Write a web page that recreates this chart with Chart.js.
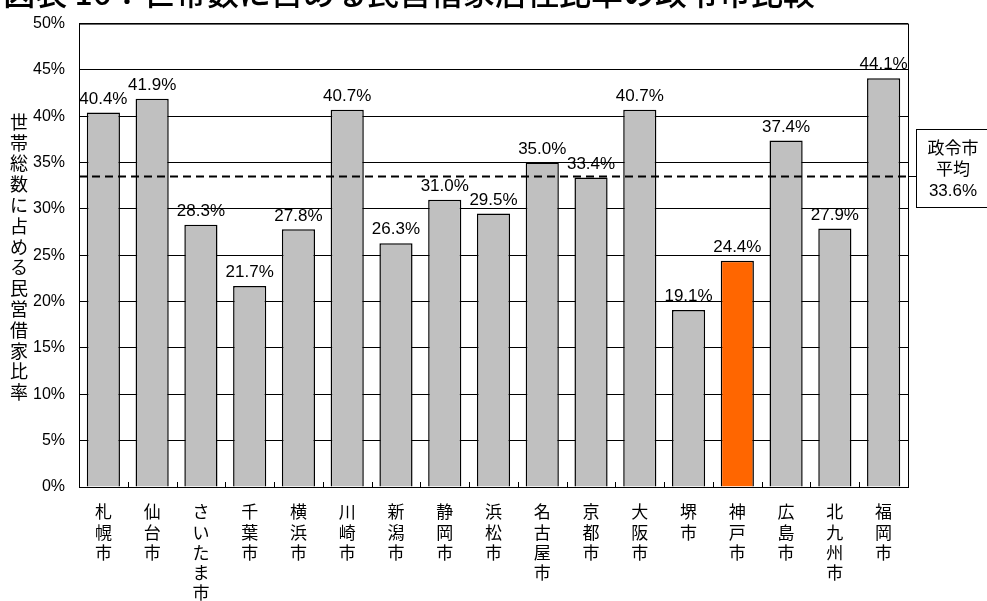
<!DOCTYPE html>
<html lang="ja">
<head>
    <meta charset="UTF-8">
    <title>世帯数に占める民営借家居住比率の政令市比較</title>
    <script src="https://cdn.jsdelivr.net/npm/chart.js"></script>
    <style>
        html, body { margin: 0; padding: 0; background: #fff; }
        #wrap { width: 987px; height: 601px; position: relative; overflow: hidden; }
    </style>
</head>
<body>
    <div id="wrap"><canvas id="chart" width="987" height="601"></canvas></div>

    <script>
        // 政令市ごとの民営借家比率（%）
        const cities = ['札幌市', '仙台市', 'さいたま市', '千葉市', '横浜市', '川崎市', '新潟市', '静岡市', '浜松市',
                        '名古屋市', '京都市', '大阪市', '堺市', '神戸市', '広島市', '北九州市', '福岡市'];
        const rates = [40.4, 41.9, 28.3, 21.7, 27.8, 40.7, 26.3, 31.0, 29.5, 35.0, 33.4, 40.7, 19.1, 24.4, 37.4, 27.9, 44.1];
        const average = 33.6;       // 政令市平均
        const highlight = '神戸市';

        const titleText = '図表 16：世帯数に占める民営借家居住比率の政令市比較';
        const yTitle = '世帯総数に占める民営借家比率';
        const avgLines = ['政令市', '平均', average.toFixed(1) + '%'];

        const jp = '"Noto Sans CJK JP", "Noto Sans", sans-serif';
        const latin = '"Liberation Sans", Arial, sans-serif';

        // タイトル・縦書き軸名・平均線・数値ラベルなどを描く
        const extras = {
            id: 'extras',
            afterDatasetsDraw(chart) {
                const { ctx, chartArea: a, scales: { x, y } } = chart;
                ctx.save();

                // 枠の上辺・右辺
                ctx.strokeStyle = '#000';
                ctx.lineWidth = 1;
                ctx.strokeRect(a.left + 0.5, a.top + 0.5, a.right - a.left, a.bottom - a.top);

                // カテゴリ境界の目盛り（内向き）
                const step = (a.right - a.left) / cities.length;
                ctx.beginPath();
                for (let i = 1; i < cities.length; i++) {
                    const px = Math.round(a.left + i * step) + 0.5;
                    ctx.moveTo(px, a.bottom);
                    ctx.lineTo(px, a.bottom - 5);
                }
                ctx.stroke();

                // 数値ラベル
                ctx.fillStyle = '#000';
                ctx.font = '17px ' + latin;
                ctx.textAlign = 'center';
                ctx.textBaseline = 'bottom';
                chart.getDatasetMeta(0).data.forEach((bar, i) => {
                    ctx.fillText(rates[i].toFixed(1) + '%', bar.x, bar.y - 5);
                });

                // 平均線（破線）
                const ay = Math.round(y.getPixelForValue(average)) + 0.5;
                ctx.lineWidth = 2;
                ctx.setLineDash([8, 5]);
                ctx.beginPath();
                ctx.moveTo(a.left, ay);
                ctx.lineTo(a.right, ay);
                ctx.stroke();
                ctx.setLineDash([]);

                // 平均の注記ボックス
                const bx = a.right + 8, bw = 80, by = 129, bh = 78;
                ctx.lineWidth = 1;
                ctx.beginPath();
                ctx.moveTo(a.right, ay);
                ctx.lineTo(bx, ay);
                ctx.stroke();
                ctx.strokeRect(bx + 0.5, by + 0.5, bw, bh);
                ctx.textBaseline = 'middle';
                const cx = bx + 37;
                ctx.font = '17px ' + jp;
                ctx.fillText(avgLines[0], cx, 148);
                ctx.fillText(avgLines[1], cx, 169);
                ctx.font = '17px ' + latin;
                ctx.fillText(avgLines[2], cx, 191);

                // 縦書きの軸名
                ctx.font = '18px ' + jp;
                [...yTitle].forEach((ch, i) => ctx.fillText(ch, 19, 122 + i * 20.8));

                // 図表タイトル（上端で切れている）
                ctx.font = '500 32px ' + jp;
                ctx.textAlign = 'right';
                ctx.textBaseline = 'alphabetic';
                ctx.fillText(titleText, 815, 5);

                ctx.restore();
            }
        };

        new Chart(document.getElementById('chart'), {
            type: 'bar',
            data: {
                labels: cities.map(c => [...c]),
                datasets: [{
                    data: rates,
                    backgroundColor: cities.map(c => c === highlight ? '#FF6600' : '#C0C0C0'),
                    borderColor: '#000',
                    borderWidth: 1.5,
                    barPercentage: 0.68,
                    categoryPercentage: 1.0
                }]
            },
            options: {
                responsive: false,
                animation: false,
                layout: { padding: { top: 20, right: 79, left: 0, bottom: 0 } },
                plugins: { legend: { display: false }, tooltip: { enabled: false }, title: { display: false } },
                scales: {
                    x: {
                        grid: { display: false },
                        border: { display: true, color: '#000', width: 1 },
                        ticks: {
                            autoSkip: false,
                            maxRotation: 0,
                            color: '#000',
                            padding: 7,
                            font: { family: jp, size: 17, lineHeight: 1.18 }
                        },
                        afterFit(scale) { scale.height = 114; }
                    },
                    y: {
                        min: 0,
                        max: 50,
                        grid: { color: '#000', lineWidth: 1, drawTicks: false },
                        border: { display: true, color: '#000', width: 1 },
                        ticks: {
                            stepSize: 5,
                            color: '#000',
                            padding: 14,
                            font: { family: latin, size: 16 },
                            callback: v => v + '%'
                        },
                        afterFit(scale) { scale.width = 79; }
                    }
                }
            },
            plugins: [extras]
        });
    </script>
</body>
</html>
